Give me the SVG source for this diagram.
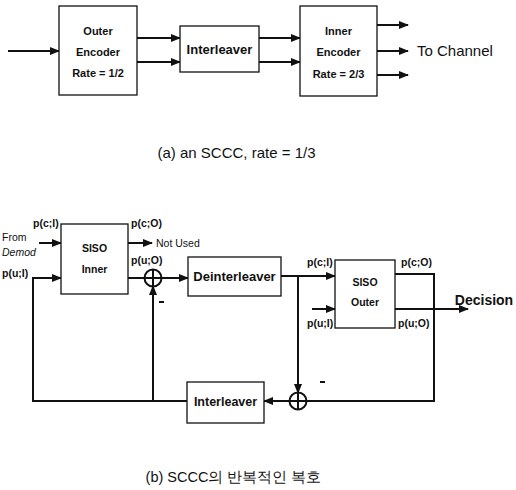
<svg xmlns="http://www.w3.org/2000/svg" width="516" height="490" viewBox="0 0 516 490">
<defs>
<marker id="ah" markerWidth="10" markerHeight="8" refX="9" refY="4" orient="auto" markerUnits="userSpaceOnUse">
<path d="M0,0 L10,4 L0,8 z" fill="#111"/>
</marker>
<style>
.box{fill:#fff;stroke:#111;stroke-width:1.3}
.ln{fill:none;stroke:#111;stroke-width:2}
.bt{font-family:"Liberation Sans",Arial,sans-serif;font-weight:bold;fill:#111;text-anchor:middle}
.lb{font-family:"Liberation Sans",Arial,sans-serif;font-weight:bold;fill:#111;font-size:10.5px}
.rt{font-family:"Liberation Sans",Arial,sans-serif;fill:#111}
.add{fill:#fff;stroke:#111;stroke-width:2}
</style>
</defs>
<rect width="516" height="490" fill="#fff"/>

<g id="connectors">
<!-- top -->
<line class="ln" x1="8" y1="51" x2="59" y2="51" marker-end="url(#ah)"/>
<line class="ln" x1="137" y1="38" x2="180" y2="38" marker-end="url(#ah)"/>
<line class="ln" x1="137" y1="62" x2="180" y2="62" marker-end="url(#ah)"/>
<line class="ln" x1="259" y1="38" x2="300" y2="38" marker-end="url(#ah)"/>
<line class="ln" x1="259" y1="62" x2="300" y2="62" marker-end="url(#ah)"/>
<line class="ln" x1="377" y1="25" x2="408" y2="25" marker-end="url(#ah)"/>
<line class="ln" x1="377" y1="51" x2="408" y2="51" marker-end="url(#ah)"/>
<line class="ln" x1="377" y1="75" x2="408" y2="75" marker-end="url(#ah)"/>
<!-- bottom -->
<line class="ln" x1="39" y1="243" x2="61" y2="243" marker-end="url(#ah)"/>
<polyline class="ln" points="187,401 33,401 33,278 61,278" marker-end="url(#ah)"/>
<line class="ln" x1="128" y1="243" x2="152" y2="243" marker-end="url(#ah)"/>
<line class="ln" x1="128" y1="278" x2="145" y2="278"/>
<line class="ln" x1="161" y1="278" x2="188" y2="278" marker-end="url(#ah)"/>
<line class="ln" x1="153" y1="401" x2="153" y2="286" marker-end="url(#ah)"/>
<line class="ln" x1="281" y1="276" x2="335" y2="276" marker-end="url(#ah)"/>
<line class="ln" x1="312" y1="309" x2="335" y2="309" marker-end="url(#ah)"/>
<line class="ln" x1="298" y1="276" x2="298" y2="393" marker-end="url(#ah)"/>
<polyline class="ln" points="395,274 434,274 434,401 306,401"/>
<line class="ln" x1="290" y1="401" x2="264" y2="401" marker-end="url(#ah)"/>
<line class="ln" x1="395" y1="309" x2="468" y2="309" marker-end="url(#ah)"/>
</g>

<g id="outer-encoder">
<rect class="box" x="59" y="6" width="78" height="89"/>
<text class="bt" x="98" y="35" font-size="11">Outer</text>
<text class="bt" x="98" y="56" font-size="11">Encoder</text>
<text class="bt" x="98" y="77" font-size="11">Rate = 1/2</text>
</g>
<g id="interleaver-top">
<rect class="box" x="180" y="26" width="79" height="46"/>
<text class="bt" x="219.5" y="54" font-size="13">Interleaver</text>
</g>
<g id="inner-encoder">
<rect class="box" x="300" y="6" width="77" height="90"/>
<text class="bt" x="338.5" y="35" font-size="11">Inner</text>
<text class="bt" x="338.5" y="56" font-size="11">Encoder</text>
<text class="bt" x="338.5" y="78" font-size="11">Rate = 2/3</text>
</g>
<text class="rt" x="417" y="56" font-size="15">To Channel</text>
<text class="rt" x="236.5" y="158" font-size="15" text-anchor="middle">(a) an SCCC, rate = 1/3</text>

<g id="siso-inner">
<rect class="box" x="61" y="224" width="67" height="70"/>
<text class="bt" x="94.5" y="252" font-size="10.5">SISO</text>
<text class="bt" x="94.5" y="273" font-size="10.5">Inner</text>
</g>
<text class="lb" x="33" y="227">p(c;I)</text>
<text class="rt" x="2" y="241" font-size="10.5">From</text>
<text class="rt" x="2" y="256" font-size="10.5" font-style="italic">Demod</text>
<text class="lb" x="2" y="277">p(u;I)</text>
<text class="lb" x="131" y="227">p(c;O)</text>
<text class="rt" x="156" y="247" font-size="10.5">Not Used</text>
<text class="lb" x="131" y="264">p(u;O)</text>

<g id="adder-1">
<circle class="add" cx="153" cy="278" r="8.5"/>
<line class="ln" x1="144.5" y1="278" x2="161.5" y2="278"/>
<line class="ln" x1="153" y1="269.5" x2="153" y2="286.5"/>
</g>
<rect x="159" y="301" width="5" height="2" fill="#111"/>

<g id="deinterleaver">
<rect class="box" x="188" y="257" width="93" height="39"/>
<text class="bt" x="234.5" y="281" font-size="13">Deinterleaver</text>
</g>

<g id="siso-outer">
<rect class="box" x="335" y="260" width="60" height="68"/>
<text class="bt" x="365" y="286" font-size="10.5">SISO</text>
<text class="bt" x="365" y="306" font-size="10.5">Outer</text>
</g>
<text class="lb" x="307" y="266">p(c;I)</text>
<text class="lb" x="307" y="327">p(u;I)</text>
<text class="lb" x="401" y="266">p(c;O)</text>
<text class="lb" x="398" y="327">p(u;O)</text>
<text class="bt" x="484" y="305" font-size="14">Decision</text>

<g id="adder-2">
<circle class="add" cx="298" cy="401" r="8.5"/>
<line class="ln" x1="289.5" y1="401" x2="306.5" y2="401"/>
<line class="ln" x1="298" y1="392.5" x2="298" y2="409.5"/>
</g>
<rect x="320" y="381" width="5" height="2" fill="#111"/>

<g id="interleaver-bottom">
<rect class="box" x="187" y="382" width="77" height="41"/>
<text class="bt" x="225.5" y="406" font-size="12.5">Interleaver</text>
</g>

<text class="rt" x="233.5" y="482" font-size="14.5" text-anchor="middle" font-family="'Liberation Sans','Noto Sans CJK KR',sans-serif">(b) SCCC의 반복적인 복호</text>
</svg>
